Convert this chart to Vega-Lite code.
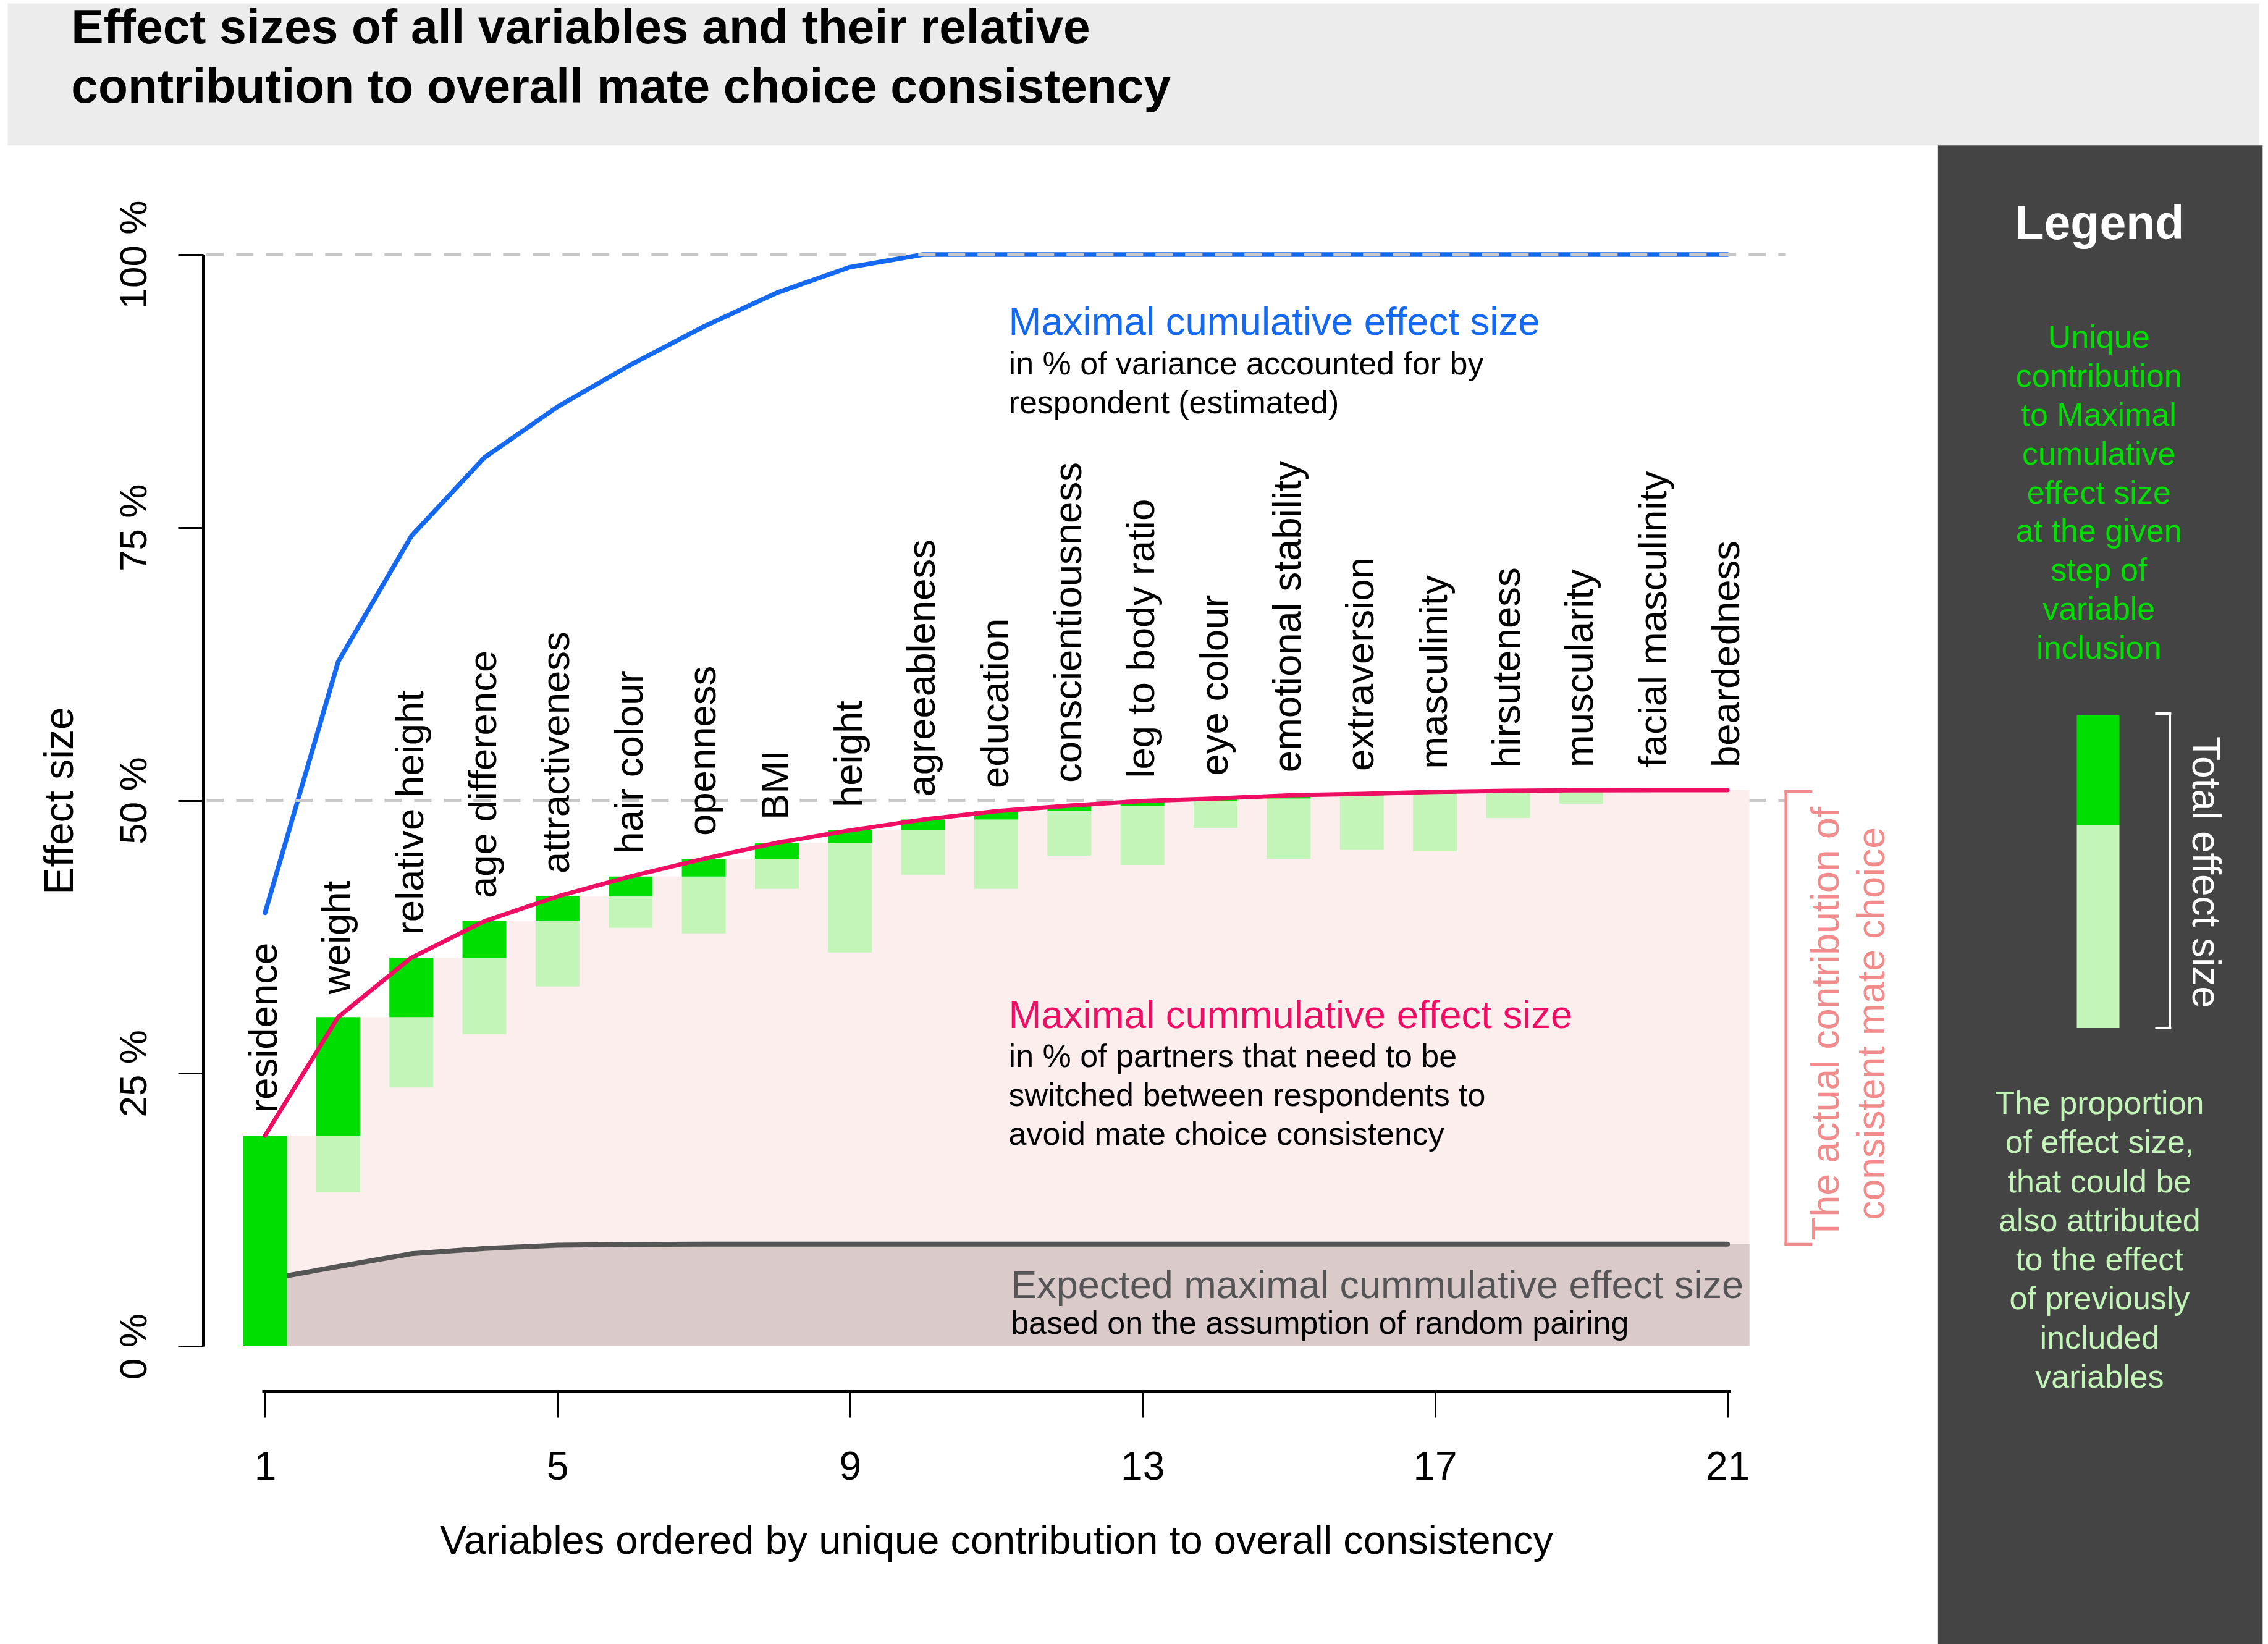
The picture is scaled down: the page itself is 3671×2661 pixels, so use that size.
{
  "$schema": "https://vega.github.io/schema/vega-lite/v6.json",
  "autosize": {"type": "none"},
  "padding": {"left": 424, "top": 412, "right": 870, "bottom": 482},
  "width": 2377,
  "height": 1767,
  "background": "white",
  "data": {
    "values": [
      {"idx": 1, "name": "residence", "cum": 19.3, "prev": 0, "low": 0, "blue": 39.7, "gray": 6.1},
      {"idx": 2, "name": "weight", "cum": 30.15, "prev": 19.3, "low": 14.1, "blue": 62.7, "gray": 7.3},
      {"idx": 3, "name": "relative height", "cum": 35.58, "prev": 30.15, "low": 23.7, "blue": 74.2, "gray": 8.47},
      {"idx": 4, "name": "age difference", "cum": 38.93, "prev": 35.58, "low": 28.6, "blue": 81.4, "gray": 8.95},
      {"idx": 5, "name": "attractiveness", "cum": 41.2, "prev": 38.93, "low": 32.95, "blue": 86.05, "gray": 9.25},
      {"idx": 6, "name": "hair colour", "cum": 43.03, "prev": 41.2, "low": 38.33, "blue": 89.9, "gray": 9.33},
      {"idx": 7, "name": "openness", "cum": 44.65, "prev": 43.03, "low": 37.82, "blue": 93.4, "gray": 9.35},
      {"idx": 8, "name": "BMI", "cum": 46.12, "prev": 44.65, "low": 41.9, "blue": 96.5, "gray": 9.35},
      {"idx": 9, "name": "height", "cum": 47.25, "prev": 46.12, "low": 36.07, "blue": 98.85, "gray": 9.35},
      {"idx": 10, "name": "agreeableness", "cum": 48.24, "prev": 47.25, "low": 43.2, "blue": 100, "gray": 9.35},
      {"idx": 11, "name": "education", "cum": 49.01, "prev": 48.24, "low": 41.9, "blue": 100, "gray": 9.35},
      {"idx": 12, "name": "conscientiousness", "cum": 49.52, "prev": 49.01, "low": 44.94, "blue": 100, "gray": 9.35},
      {"idx": 13, "name": "leg to body ratio", "cum": 49.94, "prev": 49.52, "low": 44.09, "blue": 100, "gray": 9.35},
      {"idx": 14, "name": "eye colour", "cum": 50.17, "prev": 49.94, "low": 47.48, "blue": 100, "gray": 9.35},
      {"idx": 15, "name": "emotional stability", "cum": 50.46, "prev": 50.17, "low": 44.65, "blue": 100, "gray": 9.35},
      {"idx": 16, "name": "extraversion", "cum": 50.6, "prev": 50.46, "low": 45.46, "blue": 100, "gray": 9.35},
      {"idx": 17, "name": "masculinity", "cum": 50.78, "prev": 50.6, "low": 45.33, "blue": 100, "gray": 9.35},
      {"idx": 18, "name": "hirsuteness", "cum": 50.88, "prev": 50.78, "low": 48.39, "blue": 100, "gray": 9.35},
      {"idx": 19, "name": "muscularity", "cum": 50.92, "prev": 50.88, "low": 49.69, "blue": 100, "gray": 9.35},
      {"idx": 20, "name": "facial masculinity", "cum": 50.93, "prev": 50.92, "low": 50.92, "blue": 100, "gray": 9.35},
      {"idx": 21, "name": "beardedness", "cum": 50.93, "prev": 50.93, "low": 50.93, "blue": 100, "gray": 9.35}
    ]
  },
  "layer": [
    {
      "mark": {"type": "line", "color": "#1469F0", "strokeWidth": 7.5, "strokeCap": "round", "strokeJoin": "round", "clip": false},
      "encoding": {
        "x": {
          "field": "idx", "type": "quantitative",
          "scale": {"domain": [1, 21], "nice": false, "zero": false},
          "axis": {"values": [1, 5, 9, 13, 17, 21], "format": "d", "title": "Variables ordered by unique contribution to overall consistency"}
        },
        "y": {
          "field": "blue", "type": "quantitative",
          "scale": {"domain": [0, 100], "nice": false, "zero": false},
          "axis": {"values": [0, 25, 50, 75, 100], "labelExpr": "datum.value + ' %'", "title": "Effect size"}
        }
      }
    },
    {
      "data": {"values": [{}]},
      "mark": {"type": "rect", "color": "#ECECEC", "clip": false},
      "encoding": {
        "x": {"datum": -2.52}, "x2": {"datum": 28.27},
        "y": {"datum": 123.0}, "y2": {"datum": 110.0}
      }
    },
    {
      "data": {"values": [{}]},
      "mark": {"type": "rect", "color": "#444444", "clip": false},
      "encoding": {
        "x": {"datum": 23.88}, "x2": {"datum": 28.32},
        "y": {"datum": 110.0}, "y2": {"datum": -27.3}
      }
    },
    {
      "data": {"values": [{"ref": 50}, {"ref": 100}]},
      "mark": {"type": "rule", "color": "#C8C8C8", "strokeWidth": 5, "strokeDash": [28, 20], "clip": false},
      "encoding": {
        "x": {"datum": 0.2}, "x2": {"datum": 21.8},
        "y": {"field": "ref", "type": "quantitative"}
      }
    },
    {
      "mark": {"type": "area", "interpolate": "step-after", "xOffset": 35.66, "color": "#FDEEEE", "clip": false},
      "encoding": {
        "x": {"field": "idx", "type": "quantitative"},
        "y": {"field": "cum", "type": "quantitative"}
      }
    },
    {
      "mark": {"type": "area", "color": "#DACACA", "clip": false},
      "encoding": {
        "x": {"field": "idx", "type": "quantitative"},
        "y": {"field": "gray", "type": "quantitative"}
      }
    },
    {
      "mark": {"type": "area", "interpolate": "step-after", "xOffset": 35.66, "color": "#DACACA", "clip": false},
      "encoding": {
        "x": {"field": "idx", "type": "quantitative"},
        "y": {"field": "gray", "type": "quantitative"}
      }
    },
    {
      "mark": {"type": "line", "color": "#555555", "strokeWidth": 8, "strokeCap": "round", "strokeJoin": "round", "clip": false},
      "encoding": {
        "x": {"field": "idx", "type": "quantitative"},
        "y": {"field": "gray", "type": "quantitative"}
      }
    },
    {
      "mark": {"type": "bar", "width": 71, "color": "#C3F5B9", "clip": false},
      "encoding": {
        "x": {"field": "idx", "type": "quantitative"},
        "y": {"field": "prev", "type": "quantitative"},
        "y2": {"field": "low"}
      }
    },
    {
      "mark": {"type": "bar", "width": 71, "color": "#00DD00", "clip": false},
      "encoding": {
        "x": {"field": "idx", "type": "quantitative"},
        "y": {"field": "cum", "type": "quantitative"},
        "y2": {"field": "prev"}
      }
    },
    {
      "mark": {"type": "line", "color": "#EE0E64", "strokeWidth": 7, "strokeCap": "round", "strokeJoin": "round", "clip": false},
      "encoding": {
        "x": {"field": "idx", "type": "quantitative"},
        "y": {"field": "cum", "type": "quantitative"}
      }
    },
    {
      "mark": {"type": "text", "angle": 270, "align": "left", "baseline": "middle", "yOffset": -37, "fontSize": 63.5, "color": "black", "clip": false},
      "encoding": {
        "x": {"field": "idx", "type": "quantitative"},
        "y": {"field": "cum", "type": "quantitative"},
        "text": {"field": "name"}
      }
    },
    {
      "data": {"values": [{}]},
      "mark": {"type": "text", "text": "Maximal cumulative effect size", "align": "left", "baseline": "alphabetic", "fontSize": 63.5, "color": "#1469F0", "clip": false},
      "encoding": {"x": {"datum": 11.17}, "y": {"datum": 92.67}}
    },
    {
      "data": {"values": [{}]},
      "mark": {"type": "text", "text": ["in % of variance accounted for by", "respondent (estimated)"], "align": "left", "baseline": "alphabetic", "lineHeight": 63, "fontSize": 52, "color": "black", "clip": false},
      "encoding": {"x": {"datum": 11.17}, "y": {"datum": 89.0}}
    },
    {
      "data": {"values": [{}]},
      "mark": {"type": "text", "text": "Maximal cummulative effect size", "align": "left", "baseline": "alphabetic", "fontSize": 63.5, "color": "#EE0E64", "clip": false},
      "encoding": {"x": {"datum": 11.17}, "y": {"datum": 29.12}}
    },
    {
      "data": {"values": [{}]},
      "mark": {"type": "text", "text": ["in % of partners that need to be", "switched between respondents to", "avoid mate choice consistency"], "align": "left", "baseline": "alphabetic", "lineHeight": 63, "fontSize": 52, "color": "black", "clip": false},
      "encoding": {"x": {"datum": 11.17}, "y": {"datum": 25.6}}
    },
    {
      "data": {"values": [{}]},
      "mark": {"type": "text", "text": "Expected maximal cummulative effect size", "align": "left", "baseline": "alphabetic", "fontSize": 63, "color": "#555555", "clip": false},
      "encoding": {"x": {"datum": 11.2}, "y": {"datum": 4.41}}
    },
    {
      "data": {"values": [{}]},
      "mark": {"type": "text", "text": "based on the assumption of random pairing", "align": "left", "baseline": "alphabetic", "fontSize": 52, "color": "black", "clip": false},
      "encoding": {"x": {"datum": 11.2}, "y": {"datum": 1.13}}
    },
    {
      "data": {"values": [{}]},
      "mark": {"type": "rule", "color": "#F28C8C", "strokeWidth": 4.5, "clip": false},
      "encoding": {"x": {"datum": 21.8}, "y": {"datum": 50.82}, "y2": {"datum": 9.34}}
    },
    {
      "data": {"values": [{"end": 50.82}, {"end": 9.34}]},
      "mark": {"type": "rule", "color": "#F28C8C", "strokeWidth": 4.5, "clip": false},
      "encoding": {"x": {"datum": 21.78}, "x2": {"datum": 22.16}, "y": {"field": "end", "type": "quantitative"}}
    },
    {
      "data": {"values": [{}]},
      "mark": {"type": "text", "text": ["The actual contribution of", "consistent mate choice"], "angle": 270, "align": "center", "baseline": "middle", "lineHeight": 74, "fontSize": 62.5, "color": "#F28C8C", "clip": false},
      "encoding": {"x": {"datum": 22.36}, "y": {"datum": 29.55}}
    },
    {
      "data": {"values": [{}]},
      "mark": {"type": "text", "text": ["Effect sizes of all variables and their relative", "contribution to overall mate choice consistency"], "align": "left", "baseline": "alphabetic", "lineHeight": 96, "fontSize": 78.5, "fontWeight": "bold", "color": "black", "clip": false},
      "encoding": {"x": {"datum": -1.65}, "y": {"datum": 119.35}}
    },
    {
      "data": {"values": [{}]},
      "mark": {"type": "text", "text": "Legend", "align": "center", "baseline": "alphabetic", "fontSize": 77, "fontWeight": "bold", "color": "white", "clip": false},
      "encoding": {"x": {"datum": 26.09}, "y": {"datum": 101.4}}
    },
    {
      "data": {"values": [{}]},
      "mark": {"type": "text", "text": ["Unique", "contribution", "to Maximal", "cumulative", "effect size", "at the given", "step of", "variable", "inclusion"], "align": "center", "baseline": "alphabetic", "lineHeight": 62.8, "fontSize": 52, "color": "#00DD00", "clip": false},
      "encoding": {"x": {"datum": 26.08}, "y": {"datum": 91.43}}
    },
    {
      "data": {"values": [{"top": 57.84, "bottom": 47.71, "part": "unique"}, {"top": 47.71, "bottom": 29.15, "part": "shared"}]},
      "mark": {"type": "bar", "width": 69, "clip": false},
      "encoding": {
        "x": {"datum": 26.07},
        "y": {"field": "top", "type": "quantitative"},
        "y2": {"field": "bottom"},
        "color": {"field": "part", "type": "nominal", "scale": {"domain": ["unique", "shared"], "range": ["#00DD00", "#C3F5B9"]}, "legend": null}
      }
    },
    {
      "data": {"values": [{}]},
      "mark": {"type": "rule", "color": "white", "strokeWidth": 4, "clip": false},
      "encoding": {"x": {"datum": 27.05}, "y": {"datum": 57.95}, "y2": {"datum": 29.15}}
    },
    {
      "data": {"values": [{"end": 57.95}, {"end": 29.15}]},
      "mark": {"type": "rule", "color": "white", "strokeWidth": 4, "clip": false},
      "encoding": {"x": {"datum": 26.85}, "x2": {"datum": 27.07}, "y": {"field": "end", "type": "quantitative"}}
    },
    {
      "data": {"values": [{}]},
      "mark": {"type": "text", "text": "Total effect size", "angle": 90, "align": "center", "baseline": "middle", "fontSize": 64, "color": "white", "clip": false},
      "encoding": {"x": {"datum": 27.52}, "y": {"datum": 43.41}}
    },
    {
      "data": {"values": [{}]},
      "mark": {"type": "text", "text": ["The proportion", "of effect size,", "that could be", "also attributed", "to the effect", "of previously", "included", "variables"], "align": "center", "baseline": "alphabetic", "lineHeight": 63.3, "fontSize": 52, "color": "#C3F5B9", "clip": false},
      "encoding": {"x": {"datum": 26.09}, "y": {"datum": 21.28}}
    }
  ],
  "config": {
    "font": "Liberation Sans",
    "view": {"stroke": null},
    "axis": {
      "grid": false,
      "domainColor": "black",
      "tickColor": "black",
      "labelColor": "black",
      "titleColor": "black",
      "titleFontWeight": "normal",
      "labelFlush": false,
      "labelOverlap": false,
      "domainWidth": 5,
      "tickWidth": 3
    },
    "axisX": {
      "offset": 73,
      "tickSize": 42,
      "labelFontSize": 64,
      "labelPadding": 49,
      "labelBaseline": "top",
      "titleFontSize": 65,
      "titleY": 262,
      "titleBaseline": "alphabetic"
    },
    "axisY": {
      "offset": 95,
      "tickSize": 41,
      "labelFontSize": 62,
      "labelAngle": 270,
      "labelAlign": "center",
      "labelBaseline": "alphabetic",
      "labelPadding": 52,
      "titleFontSize": 66,
      "titleAngle": 270,
      "titleX": -212,
      "titleBaseline": "alphabetic"
    }
  }
}
